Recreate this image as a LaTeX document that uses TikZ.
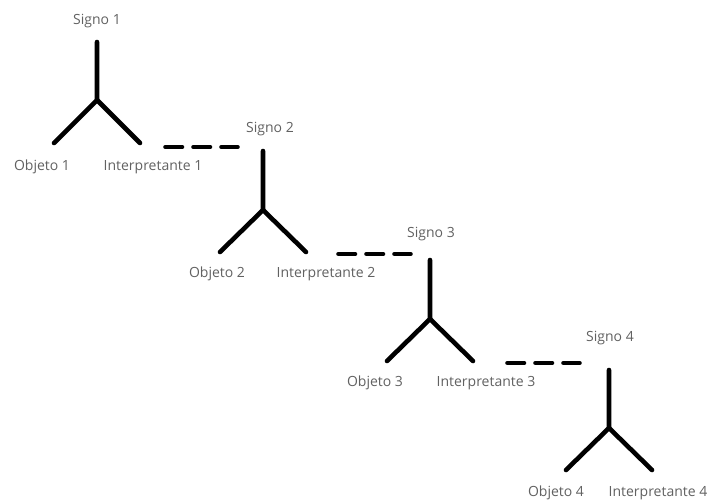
\documentclass[tikz,border=0pt]{standalone}
\usepackage{fontspec}
\setmainfont{Open Sans}
\begin{document}
\begin{tikzpicture}[x=1pt,y=-1pt,
  leg/.style={line width=4.6pt,line cap=round,black},
  link/.style={line width=4.6pt,line cap=round,black,dash pattern=on 16.5pt off 11.5pt},
  lbl/.style={text=black!62,font=\fontsize{14}{16}\selectfont,inner sep=0pt}]
\useasboundingbox (0,0) rectangle (709,501);
% tree 1
\coordinate (t1) at (97,42);
\coordinate (j1) at (97,100);
\coordinate (l1) at (54,143);
\coordinate (r1) at (140,143);
% tree 2
\coordinate (t2) at (263,151);
\coordinate (j2) at (263,210);
\coordinate (l2) at (220,252);
\coordinate (r2) at (306,252);
% tree 3
\coordinate (t3) at (430,260);
\coordinate (j3) at (430,319);
\coordinate (l3) at (387,361);
\coordinate (r3) at (473,361);
% tree 4
\coordinate (t4) at (609,370);
\coordinate (j4) at (609,428);
\coordinate (l4) at (566,470);
\coordinate (r4) at (652,470);
\foreach \i in {1,2,3,4}{
  \draw[leg] (t\i) -- (j\i) -- (l\i);
  \draw[leg] (j\i) -- (r\i);
}
% dashed links
\coordinate (a1) at (165.5,147); \coordinate (b1) at (237.5,147);
\coordinate (a2) at (338.5,254); \coordinate (b2) at (410.5,254);
\coordinate (a3) at (507.5,363); \coordinate (b3) at (579.5,363);
\foreach \i in {1,2,3}{\draw[link] (a\i) -- (b\i);}
% labels
\node[lbl] (s1) at (97,21) {Signo 1};
\node[lbl] (o1) at (42,167) {Objeto 1};
\node[lbl] (i1) at (153,167) {Interpretante 1};
\node[lbl] (s2) at (270,129) {Signo 2};
\node[lbl] (o2) at (217,274) {Objeto 2};
\node[lbl] (i2) at (326,274) {Interpretante 2};
\node[lbl] (s3) at (431,234) {Signo 3};
\node[lbl] (o3) at (375,383) {Objeto 3};
\node[lbl] (i3) at (486,383) {Interpretante 3};
\node[lbl] (s4) at (610,338) {Signo 4};
\node[lbl] (o4) at (556,493) {Objeto 4};
\node[lbl] (i4) at (658,493) {Interpretante 4};
\end{tikzpicture}
\end{document}
